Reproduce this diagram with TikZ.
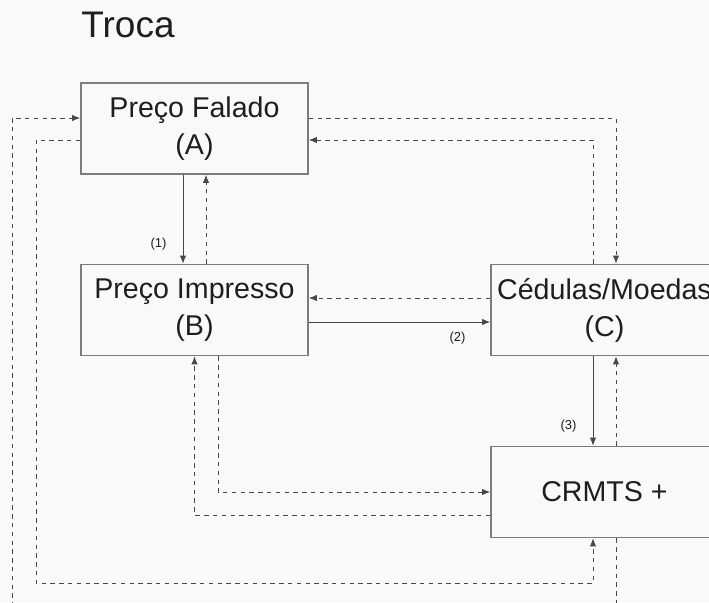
\documentclass[tikz,border=0pt]{standalone}
\usepackage{fontspec}
\setmainfont{Liberation Sans}
\usetikzlibrary{calc,arrows.meta}

\definecolor{bgcol}{HTML}{FBF9F7}
\definecolor{linecol}{HTML}{474747}
\definecolor{boxcol}{HTML}{7C7C7C}
\definecolor{txtcol}{HTML}{1E1E1E}

\tikzstyle{box}=[rectangle,draw=boxcol,line width=0.8pt,minimum width=113.5pt,minimum height=45.5pt,inner sep=0pt,align=center,text=txtcol,font=\fontsize{14.3}{18.5}\selectfont]
\tikzstyle{flow}=[draw=linecol,line width=0.5pt,-{Latex[length=4pt,width=3.2pt]}]
\tikzstyle{back}=[flow,dash pattern=on 2.2pt off 2.2pt]
\tikzstyle{step label}=[text=txtcol,font=\fontsize{6.5}{7}\selectfont,inner sep=0pt]

\begin{document}
\begin{tikzpicture}[x=0.5pt,y=-0.5pt]
		\useasboundingbox (0,0) rectangle (709,602);
		\fill[bgcol] (0,0) rectangle (709,602);
		\clip (0,0) rectangle (709,602);

		\node [anchor=base west,inner sep=0pt,text=txtcol,font=\fontsize{18.5}{20}\selectfont] (title) at (81,37) {Troca};
		\node [box] (falado)   at (194.5,128.5) {Preço Falado\\(A)};
		\node [box] (impresso) at (194.5,310)   {Preço Impresso\\(B)};
		\node [box] (cedulas)  at (604.5,310)   {Cédulas/Moedas\\(C)};
		\node [box] (crmts)    at (604.5,492)   {CRMTS +};
		\coordinate (outer)  at (12,640);
		\coordinate (inner)  at (36,583);

		\draw [flow] ($(falado.south)+(-11.5,0)$) -- node [step label,left=8pt,pos=0.78] {(1)} ($(impresso.north)+(-11.5,0)$);
		\draw [back] ($(impresso.north)+(11.5,0)$) -- ($(falado.south)+(11.5,0)$);
		\draw [flow] ($(impresso.east)+(0,12)$) -- node [step label,below=5pt,pos=0.82] {(2)} ($(cedulas.west)+(0,12)$);
		\draw [back] ($(cedulas.west)+(0,-12)$) -- ($(impresso.east)+(0,-12)$);
		\draw [flow] ($(cedulas.south)+(-11.5,0)$) -- node [step label,left=8pt,pos=0.78] {(3)} ($(crmts.north)+(-11.5,0)$);
		\draw [back] ($(crmts.north)+(11.5,0)$) -- ($(cedulas.south)+(11.5,0)$);

		\draw [back] ($(falado.east)+(0,-10.5)$) -| ($(cedulas.north)+(11.5,0)$);
		\draw [back] ($(cedulas.north)+(-11.5,0)$) |- ($(falado.east)+(0,11.5)$);
		\draw [back] ($(impresso.south)+(23.5,0)$) |- (crmts.west);
		\draw [back] ($(crmts.west)+(0,23)$) -| (impresso.south);
		\draw [back] ($(falado.west)+(0,11.5)$) -| (inner) -| ($(crmts.south)+(-11.5,0)$);
		\draw [back] ($(crmts.south)+(11.5,0)$) |- (outer) |- ($(falado.west)+(0,-10.5)$);
	\end{tikzpicture}
\end{document}
